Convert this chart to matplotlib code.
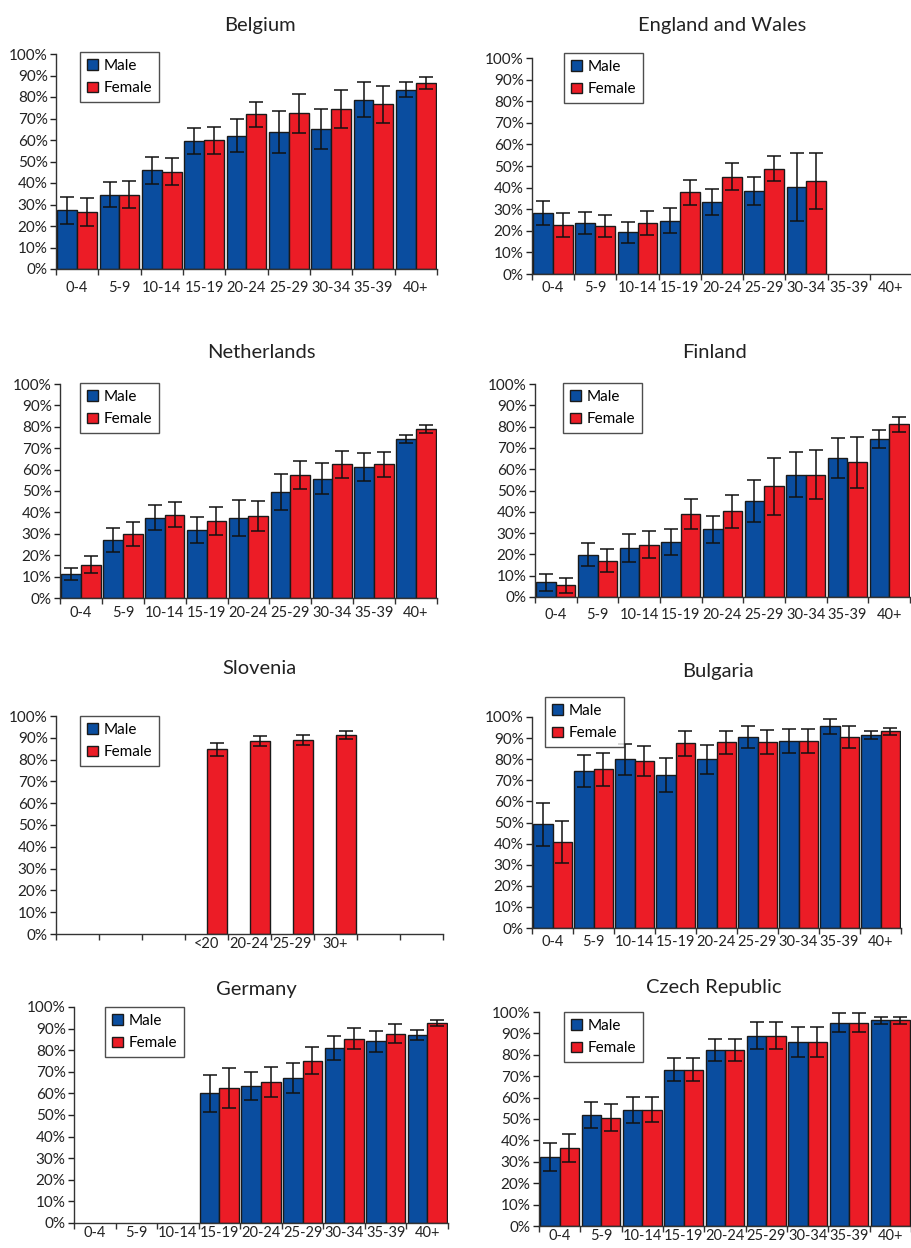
import numpy as np
import matplotlib
matplotlib.use("Agg")
import matplotlib.pyplot as plt
from matplotlib.ticker import FixedLocator, FuncFormatter

plt.rcParams['font.family'] = ['Lato', 'DejaVu Sans']

nan = np.nan

# Age groups
grupos = ["0-4", "5-9", "10-14", "15-19", "20-24", "25-29", "30-34", "35-39", "40+"]
grupos_slovenia = ["", "", "", "<20", "20-24", "25-29", "30+", "", ""]

# Values in %, with error half-widths
belgium_m = [27.3, 34.6, 45.9, 59.4, 61.9, 63.6, 65.1, 78.8, 83.4]
belgium_m_err = [6.4, 5.8, 6.4, 6.0, 7.7, 9.8, 9.5, 8.3, 3.5]
belgium_f = [26.5, 34.6, 45.3, 59.8, 71.9, 72.4, 74.4, 76.7, 86.5]
belgium_f_err = [6.5, 6.1, 6.2, 6.2, 5.9, 9.1, 8.9, 8.6, 2.9]

england_m = [28.4, 23.5, 19.3, 24.7, 33.3, 38.4, 40.3, nan, nan]
england_m_err = [5.5, 5.2, 4.8, 5.9, 6.0, 6.6, 15.6, nan, nan]
england_f = [22.8, 22.2, 23.5, 37.8, 45.1, 48.8, 43.2, nan, nan]
england_f_err = [5.5, 5.2, 5.5, 5.9, 6.2, 5.7, 12.9, nan, nan]

netherlands_m = [11.2, 27.1, 37.6, 31.7, 37.6, 49.6, 55.7, 61.3, 74.2]
netherlands_m_err = [3.0, 5.4, 5.8, 6.2, 8.4, 8.5, 7.2, 6.5, 2.0]
netherlands_f = [15.6, 29.9, 38.9, 35.9, 38.3, 57.4, 62.4, 62.4, 79.0]
netherlands_f_err = [3.9, 5.8, 5.8, 6.4, 7.2, 6.5, 6.3, 5.7, 1.9]

finland_m = [6.9, 19.9, 23.0, 25.9, 31.8, 45.0, 57.4, 65.2, 74.1]
finland_m_err = [3.9, 5.5, 6.6, 6.0, 6.3, 9.8, 10.5, 9.5, 4.2]
finland_f = [5.6, 17.1, 24.6, 39.0, 40.3, 52.0, 57.4, 63.2, 81.0]
finland_f_err = [3.5, 5.3, 6.3, 6.9, 7.8, 13.4, 11.4, 12.0, 3.5]

slovenia_m = [nan] * 9
slovenia_m_err = [nan] * 9
slovenia_f = [nan, nan, nan, 84.8, 88.4, 88.9, 91.3, nan, nan]
slovenia_f_err = [nan, nan, nan, 3.0, 2.3, 2.2, 1.8, nan, nan]

bulgaria_m = [49.1, 74.5, 80.0, 72.6, 80.0, 90.5, 88.6, 95.6, 91.4]
bulgaria_m_err = [10.1, 7.6, 7.3, 8.2, 6.9, 5.2, 5.5, 3.6, 2.0]
bulgaria_f = [40.7, 75.3, 79.2, 87.5, 88.0, 88.0, 88.6, 90.5, 93.3]
bulgaria_f_err = [9.8, 7.8, 7.2, 6.0, 5.6, 5.7, 5.5, 5.2, 1.7]

germany_m = [nan, nan, nan, 60.1, 63.5, 67.2, 81.0, 84.1, 87.1]
germany_m_err = [nan, nan, nan, 8.5, 6.6, 7.1, 5.7, 4.9, 2.2]
germany_f = [nan, nan, nan, 62.4, 65.3, 75.2, 85.4, 87.7, 92.4]
germany_f_err = [nan, nan, nan, 9.2, 6.9, 6.2, 4.9, 4.5, 1.4]

czech_m = [32.3, 51.9, 54.3, 73.1, 82.4, 89.0, 86.2, 95.0, 96.1]
czech_m_err = [6.4, 6.1, 6.2, 5.3, 5.1, 6.5, 7.0, 4.4, 1.6]
czech_f = [36.5, 50.7, 54.3, 73.1, 82.4, 89.0, 86.2, 95.0, 96.1]
czech_f_err = [6.6, 6.1, 5.8, 5.3, 5.1, 6.5, 7.0, 4.4, 1.6]

AZUL = "#0a4d9f"
VERMELHO = "#ec1c26"

W, H = 912, 1248
fig = plt.figure(figsize=(W / 100, H / 100), dpi=100)


def painel(titulo, rotulos, m, m_err, f, f_err, caixa, titulo_xy, legenda_xy, pad_x=9):
    x0, ytop, x1, ybot = caixa
    ax = fig.add_axes([x0 / W, 1 - ybot / H, (x1 - x0) / W, (ybot - ytop) / H])
    x = np.arange(len(rotulos))
    larg = 0.47
    ax.bar(x - larg / 2, m, larg, color=AZUL, edgecolor="#1a1a1a", linewidth=1, label="Male")
    ax.bar(x + larg / 2, f, larg, color=VERMELHO, edgecolor="#1a1a1a", linewidth=1, label="Female")
    ax.errorbar(x - larg / 2, m, yerr=m_err, fmt="none", ecolor="#111111", elinewidth=1.1, capsize=5, capthick=1.1)
    ax.errorbar(x + larg / 2, f, yerr=f_err, fmt="none", ecolor="#111111", elinewidth=1.1, capsize=5, capthick=1.1)

    ax.set_xlim(-0.5, len(rotulos) - 0.5)
    ax.set_ylim(0, 100)
    ax.set_yticks(np.arange(0, 101, 10))
    ax.yaxis.set_major_formatter(FuncFormatter(lambda v, p: f"{v:.0f}%"))
    ax.set_xticks(x)
    ax.set_xticklabels(rotulos)
    ax.xaxis.set_minor_locator(FixedLocator(np.arange(-0.5, len(rotulos), 1)))
    ax.tick_params(axis="x", which="major", length=0, pad=pad_x, labelsize=10.5, colors="#222222")
    ax.tick_params(axis="x", which="minor", length=4, width=1, color="#333333")
    ax.tick_params(axis="y", length=4, width=1, pad=2, labelsize=11, colors="#222222")
    for s in ["top", "right"]:
        ax.spines[s].set_visible(False)
    for s in ["left", "bottom"]:
        ax.spines[s].set_linewidth(1)
        ax.spines[s].set_color("#333333")

    fig.text(titulo_xy[0] / W, 1 - titulo_xy[1] / H, titulo, ha="center", va="center",
             fontsize=14.5, color="#222222")
    leg = ax.legend(loc="upper left", bbox_to_anchor=(legenda_xy[0] / W, 1 - legenda_xy[1] / H),
                    bbox_transform=fig.transFigure, fontsize=11, frameon=True, fancybox=False,
                    handlelength=0.7, handleheight=0.7, handletextpad=0.4, borderpad=0.45,
                    labelspacing=0.55, borderaxespad=0)
    leg.get_frame().set_edgecolor("#222222")
    leg.get_frame().set_linewidth(1)
    return ax


painel("Belgium", grupos, belgium_m, belgium_m_err, belgium_f, belgium_f_err,
       (56, 54, 437, 269), (260, 25), (80, 52), pad_x=9)
painel("England and Wales", grupos, england_m, england_m_err, england_f, england_f_err,
       (532, 58, 912, 274), (722, 25), (564, 53), pad_x=5)
painel("Netherlands", grupos, netherlands_m, netherlands_m_err, netherlands_f, netherlands_f_err,
       (60, 384, 437, 598), (261, 352), (80, 383), pad_x=6)
painel("Finland", grupos, finland_m, finland_m_err, finland_f, finland_f_err,
       (535, 384, 910, 597), (714, 352), (563, 383), pad_x=8)
painel("Slovenia", grupos_slovenia, slovenia_m, slovenia_m_err, slovenia_f, slovenia_f_err,
       (56, 716, 443, 934), (259, 668), (80, 716), pad_x=2)
painel("Bulgaria", grupos, bulgaria_m, bulgaria_m_err, bulgaria_f, bulgaria_f_err,
       (532, 717, 901, 928), (718, 671), (545, 697), pad_x=5)
painel("Germany", grupos, germany_m, germany_m_err, germany_f, germany_f_err,
       (74, 1007, 448, 1223), (256, 989), (105, 1007), pad_x=2)
painel("Czech Republic", grupos, czech_m, czech_m_err, czech_f, czech_f_err,
       (539, 1012, 911, 1226), (714, 987), (564, 1012), pad_x=2.5)

fig.savefig("out.png", dpi=100)
